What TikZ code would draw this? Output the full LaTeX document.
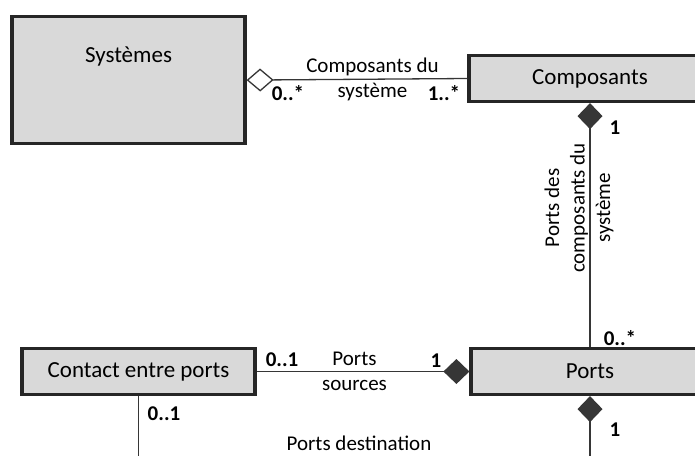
\documentclass[tikz,border=0pt]{standalone}
\usepackage{fontspec}
\setmainfont{Carlito}
\usetikzlibrary{arrows.meta, positioning}

\definecolor{boxfill}{HTML}{D9D9D9}
\definecolor{boxline}{HTML}{262626}
\definecolor{edgeline}{HTML}{363636}

\tikzset{
  agg/.tip={Diamond[fill=white, length=27pt, width=23pt]},
  cmp/.tip={Diamond[length=26pt, width=25pt]}
}

\begin{document}
\begin{tikzpicture}[x=1pt, y=-1pt]
  \tikzstyle{classbox} = [draw=boxline, line width=3.2pt, fill=boxfill, rectangle, inner sep=0pt, minimum height=46pt, font={\fontsize{23}{27}\selectfont}];
  \tikzstyle{assocEdge} = [edgeline, line width=1.3pt];
  \tikzstyle{edgeLabel} = [text=black, align=center, inner sep=0pt, font={\fontsize{21}{25.5}\selectfont}];
  \tikzstyle{multLabel} = [text=black, inner sep=0pt, font={\fontsize{21}{25}\selectfont\bfseries}];

  \path[use as bounding box] (0,0) rectangle (695,455);
  \clip (0,0) rectangle (695,455);

  % classes
  \node[classbox, anchor=north, minimum width=233pt, text height=46pt, text depth=81pt] (sys) at (128.5,15) {Systèmes};
  \node[classbox, minimum width=242pt] (comp) at (590,78.5) {Composants};
  \node[classbox, minimum width=238pt] (ports) at (590,371.5) {Ports};
  \node[classbox, minimum width=233pt] (contact) at (138.5,371.5) {Contact entre ports};

  % free ends below the frame
  \coordinate (contactEnd) at (138.5,470);
  \coordinate (portsEnd) at (590,470);

  % associations
  \draw[assocEdge, {agg}-] (sys.east) -- (comp.west)
    node[edgeLabel, pos=0.57] (lblcs) {Composants du\\système};
  \draw[assocEdge, {cmp}-] (comp.south) -- (ports.north)
    node[edgeLabel, pos=0.43, xshift=-11pt, rotate=90] (lblpcs) {Ports des\\composants du\\système};
  \draw[assocEdge, -{cmp}] (contact.east) -- (ports.west)
    node[edgeLabel, pos=0.46] (lblps) {Ports\\sources};
  \draw[assocEdge] (contact.south) -- (contactEnd);
  \draw[assocEdge, {cmp}-] (ports.south) -- (portsEnd);
  \node[edgeLabel] (lblpd) at (359,443) {Ports destination};

  % multiplicities
  \node[multLabel] (mSysComp) at (288,93) {0..*};
  \node[multLabel] (mCompSys) at (444,93) {1..*};
  \node[multLabel] (mCompPorts) at (615,128) {1};
  \node[multLabel] (mPortsComp) at (620,338) {0..*};
  \node[multLabel] (mContactSrc) at (282,360) {0..1};
  \node[multLabel] (mSrcPorts) at (436,361) {1};
  \node[multLabel] (mContactDst) at (164,414) {0..1};
  \node[multLabel] (mDstPorts) at (615,430) {1};
\end{tikzpicture}
\end{document}
